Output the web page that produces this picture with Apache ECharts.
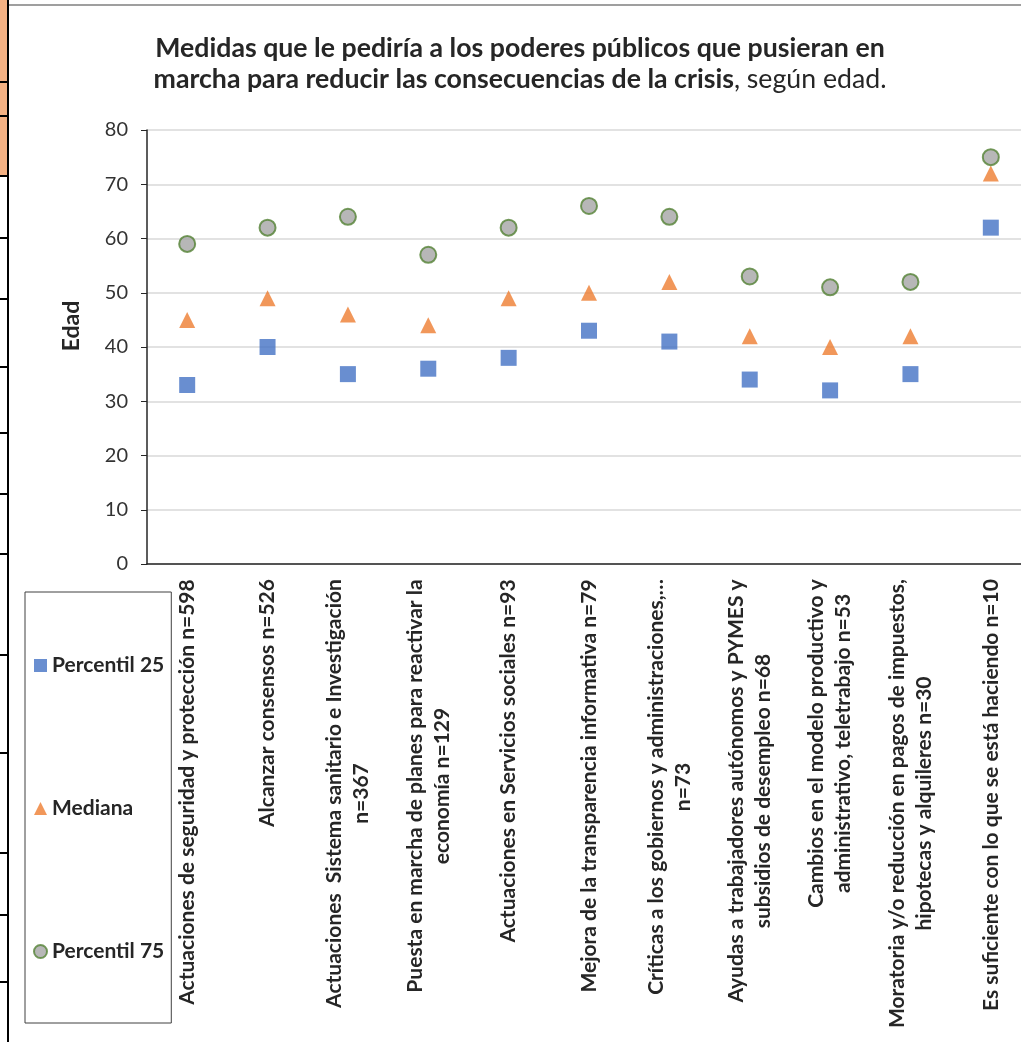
<!DOCTYPE html>
<html>
<head>
<meta charset="utf-8">
<script src="https://cdn.jsdelivr.net/npm/echarts@6/dist/echarts.min.js"></script>
<style>
html, body { margin: 0; padding: 0; background: #fff; }
#chart-box { width: 1021px; height: 1042px; }
</style>
</head>
<body>
<div id="chart-box"></div>
<script>
var categories = [
    'Actuaciones de seguridad y protección n=598',
    'Alcanzar consensos n=526',
    'Actuaciones  Sistema sanitario e Investigación\nn=367',
    'Puesta en marcha de planes para reactivar la\neconomía n=129',
    'Actuaciones en Servicios sociales n=93',
    'Mejora de la transparencia informativa n=79',
    'Críticas a los gobiernos y administraciones,…\nn=73',
    'Ayudas a trabajadores autónomos y PYMES y\nsubsidios de desempleo n=68',
    'Cambios en el modelo productivo y\nadministrativo, teletrabajo n=53',
    'Moratoria y/o reducción en pagos de impuestos,\nhipotecas y alquileres n=30',
    'Es suficiente con lo que se está haciendo n=10'
];
var percentil25 = [33, 40, 35, 36, 38, 43, 41, 34, 32, 35, 62];
var mediana = [45, 49, 46, 44, 49, 50, 52, 42, 40, 42, 72];
var percentil75 = [59, 62, 64, 57, 62, 66, 64, 53, 51, 52, 75];
var yTicks = [0, 10, 20, 30, 40, 50, 60, 70, 80];

var fontName = 'Lato, "Noto Sans", sans-serif';
var labelSize = 21;

// each label block gets the width of its longest line so short lines sit centered
var ctx = document.createElement('canvas').getContext('2d');
ctx.font = 'bold ' + labelSize + 'px ' + fontName;
var labelRich = {};
categories.forEach(function(c, i) {
    var w = 0;
    c.split('\n').forEach(function(s) {
        w = Math.max(w, ctx.measureText(s).width);
    });
    labelRich['c' + i] = {
        width: Math.ceil(w) + 2,
        align: 'center',
        fontFamily: fontName,
        fontWeight: 'bold',
        fontSize: labelSize,
        lineHeight: 27,
        color: '#262626'
    };
});

// spreadsheet cell borders on the left edge
var leftTicks = [82, 116, 176, 238, 299, 367, 433, 494, 554, 655, 753, 853, 915, 982];
var graphics = [{
    type: 'rect',
    shape: { x: 0, y: 0, width: 8, height: 176 },
    style: { fill: '#F4B183' }
}, {
    type: 'line',
    shape: { x1: 8, y1: 5, x2: 1021, y2: 5 },
    style: { stroke: '#7f7f7f', lineWidth: 1.5 }
}, {
    type: 'line',
    shape: { x1: 8, y1: 0, x2: 8, y2: 1042 },
    style: { stroke: '#000', lineWidth: 2 }
}];
leftTicks.forEach(function(y) {
    graphics.push({
        type: 'line',
        shape: { x1: 0, y1: y, x2: 8, y2: y },
        style: { stroke: '#000', lineWidth: 2 }
    });
});

var option = {
    backgroundColor: '#fff',
    animation: false,
    graphic: graphics,
    title: {
        text: '{b|Medidas que le pediría a los poderes públicos que pusieran en}\n{b|marcha para reducir las consecuencias de la crisis}{n|, según edad.}',
        left: 515,
        textAlign: 'center',
        top: 28,
        textStyle: {
            align: 'center',
            rich: {
                b: { fontFamily: fontName, fontWeight: 'bold', fontSize: 26.7, lineHeight: 31, color: '#262626' },
                n: { fontFamily: fontName, fontWeight: 'normal', fontSize: 26.7, lineHeight: 31, color: '#262626' }
            }
        }
    },
    legend: {
        orient: 'vertical',
        left: 25,
        top: 592,
        padding: [63, 7, 61, 8],
        itemGap: 122,
        itemWidth: 13,
        itemHeight: 13,
        borderColor: '#404040',
        borderWidth: 1,
        textStyle: {
            fontFamily: fontName,
            fontWeight: 'bold',
            fontSize: 21,
            color: '#262626'
        },
        data: [
            { name: 'Percentil 25', icon: 'rect' },
            { name: 'Mediana', icon: 'triangle' },
            { name: 'Percentil 75', icon: 'circle' }
        ]
    },
    grid: {
        left: 147,
        width: 884,
        top: 130,
        bottom: 478,
        outerBoundsMode: 'none'
    },
    xAxis: {
        type: 'category',
        data: categories,
        boundaryGap: true,
        axisLine: { lineStyle: { color: '#262626', width: 1.5 } },
        axisTick: { alignWithLabel: true, length: 6, lineStyle: { color: '#262626' } },
        axisLabel: {
            interval: 0,
            rotate: 90,
            margin: 14,
            formatter: function(v, i) {
                return v.split('\n').map(function(s) {
                    return '{c' + i + '|' + s + '}';
                }).join('\n');
            },
            rich: labelRich
        },
        splitLine: { show: false }
    },
    yAxis: {
        type: 'value',
        min: yTicks[0],
        max: yTicks[yTicks.length - 1],
        interval: 10,
        name: 'Edad',
        nameLocation: 'middle',
        nameGap: 64,
        nameRotate: 90,
        nameTextStyle: {
            fontFamily: fontName,
            fontWeight: 'bold',
            fontSize: 23,
            color: '#262626',
            padding: [0, 0, 0, 42]
        },
        axisLine: { show: true, lineStyle: { color: '#262626', width: 1.5 } },
        axisTick: { show: true, length: 6, lineStyle: { color: '#262626' } },
        axisLabel: {
            margin: 19,
            fontFamily: fontName,
            fontSize: 20,
            color: '#333'
        },
        splitLine: { lineStyle: { color: '#d9d9d9', width: 1.5 } }
    },
    series: [{
        name: 'Percentil 25',
        type: 'scatter',
        symbol: 'rect',
        symbolSize: 16,
        data: percentil25,
        itemStyle: { color: '#4472C4' }
    }, {
        name: 'Mediana',
        type: 'scatter',
        symbol: 'triangle',
        symbolSize: 16,
        data: mediana,
        itemStyle: { color: '#ED7D31' }
    }, {
        name: 'Percentil 75',
        type: 'scatter',
        symbol: 'circle',
        symbolSize: 16,
        data: percentil75,
        itemStyle: { color: '#A5A5A5', borderColor: '#548235', borderWidth: 2 }
    }]
};

var myChart = echarts.init(document.getElementById('chart-box'));
myChart.setOption(option);
</script>
</body>
</html>
